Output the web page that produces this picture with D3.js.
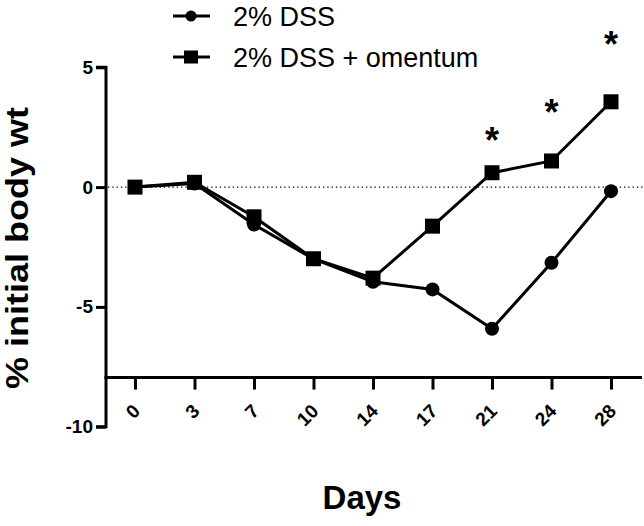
<!DOCTYPE html>
<html>
<head>
<meta charset="utf-8">
<script src="https://cdn.jsdelivr.net/npm/d3@7/dist/d3.min.js"></script>
<style>
  html, body { margin: 0; padding: 0; background: #fff; }
  svg { display: block; }
  text { font-family: "Liberation Sans", Arial, sans-serif; fill: #000; }
</style>
</head>
<body>
<svg id="chart" width="644" height="526"></svg>
<script>
// ---- data ----
const days = ["0", "3", "7", "10", "14", "17", "21", "24", "28"];
const dss = [0, 0.15, -1.56, -3.0, -3.95, -4.27, -5.91, -3.16, -0.17];
const dssOmentum = [0, 0.2, -1.24, -2.99, -3.8, -1.63, 0.6, 1.09, 3.56];
const seriesNames = ["2% DSS", "2% DSS + omentum"];
const yTicks = [5, 0, -5, -10];
const starDays = ["21", "24", "28"];
const starValues = [2.28, 3.45, 6.29];

// ---- layout ----
const svg = d3.select("#chart");
const yAxisX = 106;
const x = d3.scalePoint().domain(days).range([135, 611]);
const y = d3.scaleLinear().domain([-10, 5]).range([426.7, 67.3]);
const xAxisY = y(-7.95);

// dotted zero line
svg.append("line")
  .attr("x1", yAxisX + 2).attr("x2", 644)
  .attr("y1", y(0)).attr("y2", y(0))
  .attr("stroke", "#000").attr("stroke-width", 1.3)
  .attr("stroke-dasharray", "1.3,3");

// y axis
const yAxis = d3.axisLeft(y).tickValues(yTicks).tickSize(10).tickPadding(3).tickFormat(d3.format("d"));
const gy = svg.append("g").attr("transform", `translate(${yAxisX},0)`).call(yAxis);
gy.select(".domain").attr("d", `M-10,${y(5)}H0V${y(-10)}H-10`).attr("stroke", "#000").attr("stroke-width", 3).attr("fill", "none");
gy.selectAll(".tick line").attr("stroke", "#000").attr("stroke-width", 3);
gy.selectAll(".tick text").attr("font-size", 19).attr("font-weight", "bold")
  .attr("font-family", "Liberation Sans, Arial, sans-serif").attr("fill", "#000")
  .text(d => d < 0 ? "-" + Math.abs(d) : d);

// x axis
const xAxis = d3.axisBottom(x).tickSize(12).tickPadding(0);
const gx = svg.append("g").attr("transform", `translate(0,${xAxisY})`).call(xAxis);
gx.select(".domain").attr("d", `M${yAxisX - 1.5},0H642`).attr("stroke", "#000").attr("stroke-width", 3);
gx.selectAll(".tick line").attr("stroke", "#000").attr("stroke-width", 3);
gx.selectAll(".tick text")
  .attr("font-size", 19).attr("font-weight", "bold")
  .attr("font-family", "Liberation Sans, Arial, sans-serif").attr("fill", "#000")
  .attr("text-anchor", "end")
  .attr("y", 0).attr("dy", "0.35em")
  .attr("transform", "translate(1,30) rotate(-45)");

// lines
const line = d3.line().x((d, i) => x(days[i])).y(d => y(d));
svg.append("path").datum(dss).attr("d", line)
  .attr("fill", "none").attr("stroke", "#000").attr("stroke-width", 3);
svg.append("path").datum(dssOmentum).attr("d", line)
  .attr("fill", "none").attr("stroke", "#000").attr("stroke-width", 3);

// markers
svg.append("g").selectAll("circle").data(dss).join("circle")
  .attr("cx", (d, i) => x(days[i])).attr("cy", d => y(d)).attr("r", 7).attr("fill", "#000");
const sq = 15;
svg.append("g").selectAll("rect").data(dssOmentum).join("rect")
  .attr("x", (d, i) => x(days[i]) - sq / 2).attr("y", d => y(d) - sq / 2)
  .attr("width", sq).attr("height", sq).attr("fill", "#000");

// significance stars
svg.append("g").selectAll("text").data(starDays).join("text")
  .attr("x", d => x(d)).attr("y", (d, i) => y(starValues[i]) + 21)
  .attr("text-anchor", "middle").attr("font-size", 36).attr("font-weight", "bold")
  .text("*");

// legend
const legendRows = [16, 57];
const lg = svg.append("g");
seriesNames.forEach((name, i) => {
  const cy = legendRows[i];
  lg.append("line").attr("x1", 173).attr("x2", 210).attr("y1", cy).attr("y2", cy)
    .attr("stroke", "#000").attr("stroke-width", 3);
  if (i === 0) {
    lg.append("circle").attr("cx", 191).attr("cy", cy).attr("r", 5.5).attr("fill", "#000");
  } else {
    lg.append("rect").attr("x", 184).attr("y", cy - 6.5).attr("width", 14).attr("height", 13).attr("fill", "#000");
  }
  lg.append("text").attr("x", 233).attr("y", cy + 9.5).attr("font-size", 27).text(name);
});

// axis titles
svg.append("text")
  .attr("transform", `translate(28,${248}) rotate(-90)`)
  .attr("text-anchor", "middle").attr("font-size", 31).attr("font-weight", "bold")
  .attr("textLength", 282).attr("lengthAdjust", "spacingAndGlyphs")
  .text("% initial body wt");
svg.append("text")
  .attr("x", 362).attr("y", 509)
  .attr("text-anchor", "middle").attr("font-size", 33).attr("font-weight", "bold")
  .text("Days");
</script>
</body>
</html>
